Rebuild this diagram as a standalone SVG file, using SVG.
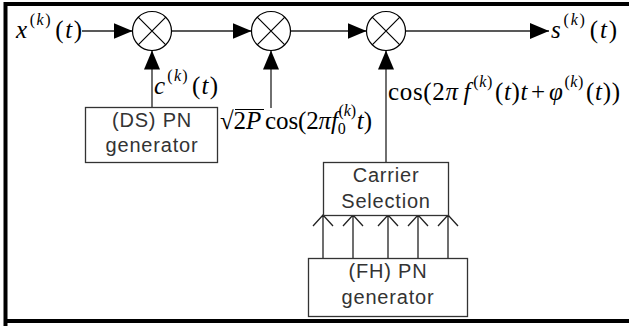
<svg xmlns="http://www.w3.org/2000/svg" width="629" height="326" viewBox="0 0 629 326">
<defs>
<style>
.ln{stroke:#222;stroke-width:1.3;fill:none}
.box{stroke:#333;stroke-width:1.3;fill:#fff}
.mul{stroke:#000;stroke-width:1.2;fill:#fff}
.math{font-family:"Liberation Serif","Times New Roman",serif;font-size:25px;fill:#000}
.sup{font-size:16px}
.sans{font-family:"Liberation Sans",Arial,sans-serif;font-size:20px;fill:#333;text-anchor:middle;letter-spacing:0.8px}
.open{stroke:#222;stroke-width:1.3;fill:none}
</style>
<marker id="ah" markerUnits="userSpaceOnUse" markerWidth="20" markerHeight="16" refX="19" refY="8" orient="auto">
<path d="M0,0 L19,8 L0,16 Z" fill="#000"/>
</marker>
</defs>
<rect width="629" height="326" fill="#fff"/>
<path d="M5.5,326 V4 H629 M4,321 H629" stroke="#000" stroke-width="4" fill="none"/>
<g id="connectors">
<line class="ln" x1="82" y1="31" x2="132.5" y2="31" marker-end="url(#ah)"/>
<line class="ln" x1="172" y1="31" x2="251.5" y2="31" marker-end="url(#ah)"/>
<line class="ln" x1="291" y1="31" x2="366.5" y2="31" marker-end="url(#ah)"/>
<line class="ln" x1="406" y1="31" x2="549" y2="31" marker-end="url(#ah)"/>
<line class="ln" x1="152" y1="107" x2="152" y2="50.5" marker-end="url(#ah)"/>
<line class="ln" x1="271" y1="108" x2="271" y2="50.5" marker-end="url(#ah)"/>
<line class="ln" x1="386" y1="162" x2="386" y2="50.5" marker-end="url(#ah)"/>
<g id="fh-links">
<path class="ln" d="M323,258 V215 M353,258 V215 M388,258 V215 M418,258 V215 M448,258 V215"/>
<path class="open" d="M313,226 L323,215 L333,226 M343,226 L353,215 L363,226 M378,226 L388,215 L398,226 M408,226 L418,215 L428,226 M438,226 L448,215 L458,226"/>
</g>
</g>
<g id="mult1">
<circle class="mul" cx="152" cy="31" r="19.5"/>
<path class="mul" d="M138.2,17.2 L165.8,44.8 M165.8,17.2 L138.2,44.8"/>
</g>
<g id="mult2">
<circle class="mul" cx="271" cy="31" r="19.5"/>
<path class="mul" d="M257.2,17.2 L284.8,44.8 M284.8,17.2 L257.2,44.8"/>
</g>
<g id="mult3">
<circle class="mul" cx="386" cy="31" r="19.5"/>
<path class="mul" d="M372.2,17.2 L399.8,44.8 M399.8,17.2 L372.2,44.8"/>
</g>
<g id="ds-pn">
<rect class="box" x="85.5" y="107.5" width="132" height="55"/>
<text class="sans" x="152" y="127">(DS) PN</text>
<text class="sans" x="152" y="152">generator</text>
</g>
<g id="carrier-selection">
<rect class="box" x="323.5" y="162.5" width="125" height="53"/>
<text class="sans" x="386" y="182">Carrier</text>
<text class="sans" x="386" y="208">Selection</text>
</g>
<g id="fh-pn">
<rect class="box" x="308.5" y="258.5" width="159" height="58"/>
<text class="sans" x="388" y="278">(FH) PN</text>
<text class="sans" x="388" y="304">generator</text>
</g>
<g id="labels">
<text class="math" x="16" y="38" textLength="66" lengthAdjust="spacing"><tspan font-style="italic">x</tspan><tspan class="sup" dy="-13" dx="1">(</tspan><tspan class="sup" font-style="italic">k</tspan><tspan class="sup">)</tspan><tspan dy="13" dx="3">(</tspan><tspan font-style="italic">t</tspan><tspan>)</tspan></text>
<text class="math" x="551" y="38" textLength="66" lengthAdjust="spacing"><tspan font-style="italic">s</tspan><tspan class="sup" dy="-13" dx="1">(</tspan><tspan class="sup" font-style="italic">k</tspan><tspan class="sup">)</tspan><tspan dy="13" dx="3">(</tspan><tspan font-style="italic">t</tspan><tspan>)</tspan></text>
<text class="math" x="154" y="94" textLength="64" lengthAdjust="spacing"><tspan font-style="italic">c</tspan><tspan class="sup" dy="-13" dx="1">(</tspan><tspan class="sup" font-style="italic">k</tspan><tspan class="sup">)</tspan><tspan dy="13" dx="3">(</tspan><tspan font-style="italic">t</tspan><tspan>)</tspan></text>
<text class="math" x="220" y="129" textLength="152" lengthAdjust="spacing">√<tspan>2</tspan><tspan font-style="italic">P</tspan><tspan dx="4">cos(2</tspan><tspan font-style="italic">πf</tspan><tspan class="sup" dy="5">0</tspan><tspan class="sup" dx="-7" dy="-18">(</tspan><tspan class="sup" font-style="italic">k</tspan><tspan class="sup">)</tspan><tspan dy="13" dx="1" font-style="italic">t</tspan><tspan>)</tspan></text>
<path d="M235,109.5 H264" stroke="#000" stroke-width="1"/>
<text class="math" x="388" y="100" textLength="232" lengthAdjust="spacing"><tspan>cos(2</tspan><tspan font-style="italic">π</tspan><tspan dx="5" font-style="italic">f</tspan><tspan class="sup" dy="-13" dx="2">(</tspan><tspan class="sup" font-style="italic">k</tspan><tspan class="sup">)</tspan><tspan dy="13" dx="2">(</tspan><tspan font-style="italic">t</tspan><tspan>)</tspan><tspan font-style="italic">t</tspan><tspan dx="3">+</tspan><tspan dx="3" font-style="italic">φ</tspan><tspan class="sup" dy="-13" dx="1">(</tspan><tspan class="sup" font-style="italic">k</tspan><tspan class="sup">)</tspan><tspan dy="13" dx="2">(</tspan><tspan font-style="italic">t</tspan><tspan>))</tspan></text>
</g>
</svg>
